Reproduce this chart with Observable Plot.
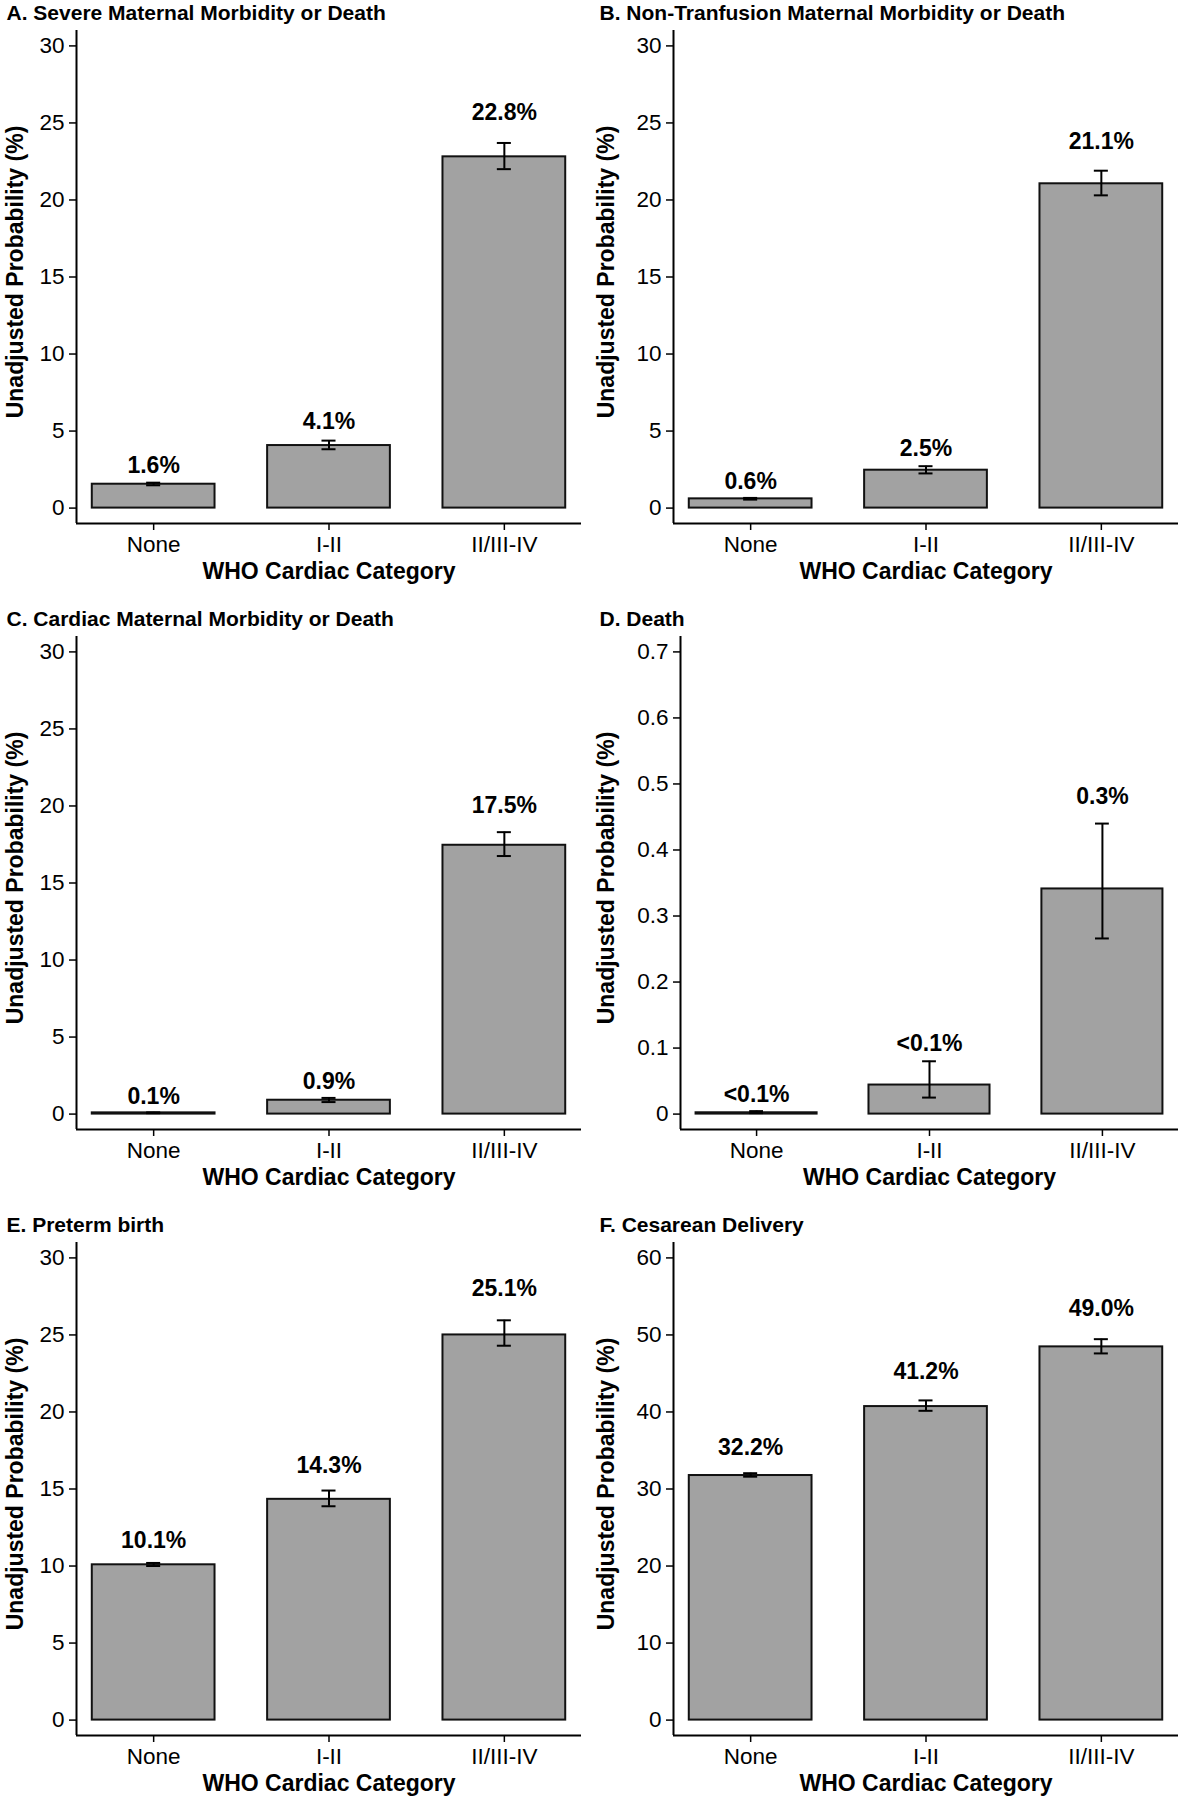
<!DOCTYPE html>
<html>
<head>
<meta charset="utf-8">
<script src="https://cdn.jsdelivr.net/npm/d3@7"></script>
<script src="https://cdn.jsdelivr.net/npm/@observablehq/plot@0.6"></script>
<style>
  body { margin: 0; background: #fff; }
  #grid { display: grid; grid-template-columns: 591px 592px; grid-template-rows: 606px 606px 588px; width: 1183px; }
  #grid svg { display: block; }
</style>
</head>
<body>
<div id="grid"></div>
<script>
// ---- data ----
const categories = ["None", "I-II", "II/III-IV"];
const xTitle = "WHO Cardiac Category";
const yTitle = "Unadjusted Probability (%)";

const titles = [
  "A. Severe Maternal Morbidity or Death",
  "B. Non-Tranfusion Maternal Morbidity or Death",
  "C. Cardiac Maternal Morbidity or Death",
  "D. Death",
  "E. Preterm birth",
  "F. Cesarean Delivery"
];

const severeValue = [1.55, 4.06, 22.8];
const severeLow   = [1.48, 3.82, 22.0];
const severeHigh  = [1.65, 4.38, 23.7];
const severeLabel = ["1.6%", "4.1%", "22.8%"];

const nonTransValue = [0.6, 2.46, 21.05];
const nonTransLow   = [0.55, 2.25, 20.3];
const nonTransHigh  = [0.66, 2.72, 21.9];
const nonTransLabel = ["0.6%", "2.5%", "21.1%"];

const cardiacValue = [0.08, 0.9, 17.45];
const cardiacLow   = [0.06, 0.78, 16.75];
const cardiacHigh  = [0.11, 1.05, 18.3];
const cardiacLabel = ["0.1%", "0.9%", "17.5%"];

const deathValue = [0.002, 0.044, 0.341];
const deathLow   = [0.0015, 0.025, 0.266];
const deathHigh  = [0.0045, 0.080, 0.440];
const deathLabel = ["<0.1%", "<0.1%", "0.3%"];

const pretermValue = [10.08, 14.33, 25.0];
const pretermLow   = [10.0, 13.88, 24.3];
const pretermHigh  = [10.2, 14.9, 25.95];
const pretermLabel = ["10.1%", "14.3%", "25.1%"];

const cesareanValue = [31.75, 40.7, 48.45];
const cesareanLow   = [31.6, 40.15, 47.6];
const cesareanHigh  = [32.05, 41.5, 49.45];
const cesareanLabel = ["32.2%", "41.2%", "49.0%"];

const ticks30 = [0, 5, 10, 15, 20, 25, 30];
const ticksDeath = [0, 0.1, 0.2, 0.3, 0.4, 0.5, 0.6, 0.7];
const ticks60 = [0, 10, 20, 30, 40, 50, 60];

// ---- panel specs ----
const panels = [
  {title: titles[0], value: severeValue, low: severeLow, high: severeHigh, label: severeLabel, ticks: ticks30, col: 0, ml: 76, h: 606},
  {title: titles[1], value: nonTransValue, low: nonTransLow, high: nonTransHigh, label: nonTransLabel, ticks: ticks30, col: 1, ml: 82, h: 606},
  {title: titles[2], value: cardiacValue, low: cardiacLow, high: cardiacHigh, label: cardiacLabel, ticks: ticks30, col: 0, ml: 76, h: 606},
  {title: titles[3], value: deathValue, low: deathLow, high: deathHigh, label: deathLabel, ticks: ticksDeath, col: 1, ml: 89, h: 606},
  {title: titles[4], value: pretermValue, low: pretermLow, high: pretermHigh, label: pretermLabel, ticks: ticks30, col: 0, ml: 76, h: 588},
  {title: titles[5], value: cesareanValue, low: cesareanLow, high: cesareanHigh, label: cesareanLabel, ticks: ticks60, col: 1, ml: 82, h: 588}
];

const font = "'Liberation Sans', Arial, Helvetica, sans-serif";
const xDom = [-0.44, 2.44];
const barHalf = 0.35;
const capHalf = 0.04;

function makePanel(p) {
  const W = p.col === 0 ? 591 : 592;
  const rightEnd = p.col === 0 ? 581 : 587;
  const mr = W - rightEnd;
  const mt = 30;
  const mb = p.h - 523;
  const titleX = p.col === 0 ? 6 : 8;
  const top = p.ticks[p.ticks.length - 1];
  const domain = [-top / 30, top * 31 / 30];
  const data = categories.map((c, i) => ({i, cat: c, v: p.value[i], lo: p.low[i], hi: p.high[i], label: p.label[i]}));
  return Plot.plot({
    width: W,
    height: p.h,
    marginLeft: p.ml,
    marginRight: mr,
    marginTop: mt,
    marginBottom: mb,
    style: {fontFamily: font, fontSize: "22px", color: "#000", background: "#fff", overflow: "visible"},
    x: {domain: xDom},
    y: {domain},
    marks: [
      Plot.rectY(data, {x1: d => d.i - barHalf, x2: d => d.i + barHalf, y1: 0, y2: "v", fill: "#a2a2a2", stroke: "#111", strokeWidth: 2}),
      Plot.ruleX(data, {x: "i", y1: "lo", y2: "hi", stroke: "#000", strokeWidth: 2}),
      Plot.ruleY(data, {y: "hi", x1: d => d.i - capHalf, x2: d => d.i + capHalf, stroke: "#000", strokeWidth: 2}),
      Plot.ruleY(data, {y: "lo", x1: d => d.i - capHalf, x2: d => d.i + capHalf, stroke: "#000", strokeWidth: 2}),
      Plot.text(data, {x: "i", y: d => d.hi * 1.039 + 0.0346 * top, text: "label", lineAnchor: "middle", fontWeight: "bold", fontSize: 23}),
      Plot.ruleY([domain[0]], {stroke: "#000", strokeWidth: 2}),
      Plot.ruleX([xDom[0]], {stroke: "#000", strokeWidth: 2}),
      Plot.axisY({ticks: p.ticks, tickFormat: d => `${d}`, tickSize: 7, tickPadding: 5, label: null, strokeWidth: 1.5, fontSize: 22.5}),
      Plot.axisX({ticks: [0, 1, 2], tickFormat: i => categories[i], tickSize: 7, tickPadding: 6, label: null, strokeWidth: 1.5, fontSize: 22.5}),
      Plot.text([xTitle], {frameAnchor: "bottom", lineAnchor: "middle", textAnchor: "middle", dy: 48, fontWeight: "bold", fontSize: 23}),
      Plot.text([yTitle], {frameAnchor: "left", rotate: -90, lineAnchor: "middle", textAnchor: "middle", dx: 15 - p.ml, dy: -5, fontWeight: "bold", fontSize: 23}),
      Plot.text([p.title], {frameAnchor: "top-left", textAnchor: "start", lineAnchor: "middle", dx: titleX - p.ml, dy: -17, fontWeight: "bold", fontSize: 21})
    ]
  });
}

const grid = document.getElementById("grid");
for (const p of panels) grid.appendChild(makePanel(p));
</script>
</body>
</html>
